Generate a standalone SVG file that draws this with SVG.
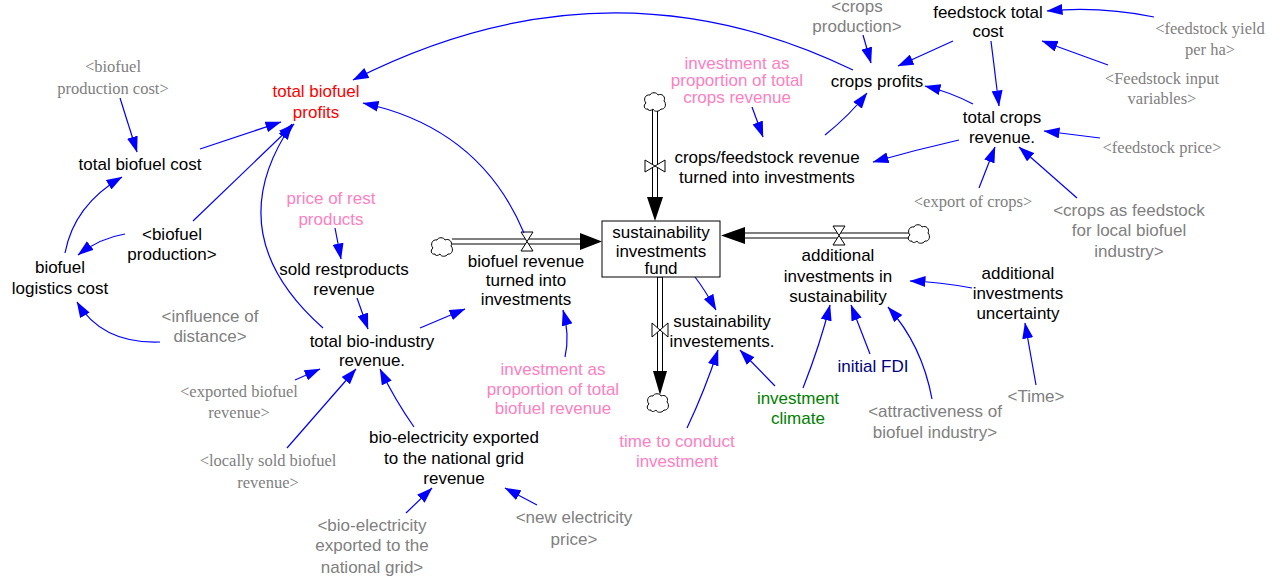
<svg xmlns="http://www.w3.org/2000/svg" xmlns:xlink="http://www.w3.org/1999/xlink" width="1279" height="578" viewBox="0 0 1279 578">
  <style>
    text { font-family: "Liberation Sans", Arial, sans-serif; font-size: 17px; text-anchor: middle; fill: #000; }
    .sh { fill: #808080; }
    .shs { fill: #808080; font-family: "Liberation Serif", "Times New Roman", serif; font-size: 16.5px; }
    .pk { fill: #FF80C0; }
    .rd { fill: #FF0000; }
    .gr { fill: #008000; }
    .nv { fill: #000080; }
    .lnk { fill: none; stroke: #0000FF; stroke-width: 1.2; marker-end: url(#ah); }
    .pipeo { stroke: #000; stroke-width: 6; fill: none; }
    .pipei { stroke: #fff; stroke-width: 4; fill: none; }
    .valve { fill: #fff; stroke: #000; stroke-width: 1; }
    .cloud { fill: #fff; stroke: #000; stroke-width: 1; }
  </style>
  <defs>
    <marker id="ah" markerUnits="userSpaceOnUse" markerWidth="16" markerHeight="11" viewBox="0 0 16 11" refX="15.5" refY="5.5" orient="auto">
      <path d="M0,0 L16,5.5 L0,11 Z" fill="#0000FF"/>
    </marker>
    <path id="cl" class="cloud" d="M-7,7 C-11,8 -12,3 -9,1 C-12,-2 -10,-8 -5,-7 C-4,-10 2,-10 3,-7 C7,-9 11,-5 9,-1 C12,2 10,8 6,7 C4,10 -1,10 -2,7 C-4,9 -7,9 -7,7 Z"/>
  </defs>

  <rect width="1279" height="578" fill="#fff"/>

  <!-- flows: pipes, valves, sources and sinks -->
  <g id="flows">
    <!-- biofuel revenue inflow from left -->
    <line class="pipeo" x1="452" y1="241.5" x2="581" y2="241.5"/>
    <line class="pipei" x1="451" y1="241.5" x2="582" y2="241.5"/>
    <polygon points="580,233 602,241.5 580,250" fill="#000"/>
    <use xlink:href="#cl" href="#cl" transform="translate(442,247)"/>
    <polygon class="valve" points="521,232 533,232 527,241.5 533,251 521,251 527,241.5"/>

    <!-- additional investments inflow from right -->
    <line class="pipeo" x1="744" y1="235.5" x2="909" y2="235.5"/>
    <line class="pipei" x1="743" y1="235.5" x2="910" y2="235.5"/>
    <polygon points="745,227 721,235.5 745,244" fill="#000"/>
    <use xlink:href="#cl" href="#cl" transform="translate(919,234)"/>
    <polygon class="valve" points="833,226 845,226 839,235.5 845,245 833,245 839,235.5"/>

    <!-- crops/feedstock inflow from top -->
    <line class="pipeo" x1="655" y1="110" x2="655" y2="198"/>
    <line class="pipei" x1="655" y1="109" x2="655" y2="199"/>
    <polygon points="647,197 655,221 663,197" fill="#000"/>
    <use xlink:href="#cl" href="#cl" transform="translate(655,102)"/>
    <polygon class="valve" points="645,160 645,172 655,166 665,172 665,160 655,166"/>

    <!-- sustainability investements outflow downward -->
    <line class="pipeo" x1="660" y1="277" x2="660" y2="372"/>
    <line class="pipei" x1="660" y1="277.5" x2="660" y2="373"/>
    <polygon points="653,371 660,395 667,371" fill="#000"/>
    <use xlink:href="#cl" href="#cl" transform="translate(658,403)"/>
    <polygon class="valve" points="652,323 652,337 660,330 668,337 668,323 660,330"/>
  </g>

  <!-- information links -->
  <g id="connectors">
    <path class="lnk" d="M120,98 L137,152"/>
    <path class="lnk" d="M200,149 L281,122"/>
    <path class="lnk" d="M193,221 L294,124"/>
    <path class="lnk" d="M125,234 Q100,238 78,255"/>
    <path class="lnk" d="M65,253 Q74,205 122,177"/>
    <path class="lnk" d="M160,342 Q102,344 77,302"/>
    <path class="lnk" d="M323,328 Q217,234 292,124"/>
    <path class="lnk" d="M524,233 Q480,128 363,103"/>
    <path class="lnk" d="M357,298 L368,329"/>
    <path class="lnk" d="M335,228 L341,259"/>
    <path class="lnk" d="M420,328 L465,309"/>
    <path class="lnk" d="M565,357 Q570,335 563,310"/>
    <path class="lnk" d="M295,380 L320,369"/>
    <path class="lnk" d="M287,448 L356,369"/>
    <path class="lnk" d="M414,427 Q395,400 380,369"/>
    <path class="lnk" d="M406,513 L432,488"/>
    <path class="lnk" d="M537,505 L505,488"/>
    <path class="lnk" d="M853,70 Q607,-49 353,80"/>
    <path class="lnk" d="M863,35 L871,63"/>
    <path class="lnk" d="M953,41 L898,66"/>
    <path class="lnk" d="M991,41 L999,106"/>
    <path class="lnk" d="M1154,17 Q1100,6 1047,11"/>
    <path class="lnk" d="M1108,65 L1042,41"/>
    <path class="lnk" d="M973,104 Q950,92 925,86"/>
    <path class="lnk" d="M825,135 Q850,115 867,93"/>
    <path class="lnk" d="M959,140 Q915,150 873,162"/>
    <path class="lnk" d="M1100,138 L1044,131"/>
    <path class="lnk" d="M979,188 L995,147"/>
    <path class="lnk" d="M1077,198 L1019,147"/>
    <path class="lnk" d="M752,107 L763,137"/>
    <path class="lnk" d="M695,277 Q705,290 716,310"/>
    <path class="lnk" d="M775,386 L740,350"/>
    <path class="lnk" d="M687,428 Q705,390 718,350"/>
    <path class="lnk" d="M803,388 Q820,345 830,305"/>
    <path class="lnk" d="M870,354 L851,305"/>
    <path class="lnk" d="M932,399 Q922,345 888,307"/>
    <path class="lnk" d="M972,288 Q940,282 910,281"/>
    <path class="lnk" d="M1036,385 L1025,323"/>
  </g>

  <!-- stock -->
  <g id="sustainability-investments-fund">
    <rect x="602" y="221" width="118" height="56" fill="#fff" stroke="#000" stroke-width="1"/>
    <text x="661" y="238">sustainability</text>
    <text x="661" y="257">investments</text>
    <text x="661" y="274">fund</text>
  </g>

  <!-- variables -->
  <g id="biofuel-production-cost-shadow"><text class="shs" x="113" y="72">&lt;biofuel</text><text class="shs" x="113" y="94">production cost&gt;</text></g>
  <g id="total-biofuel-profits"><text class="rd" x="316" y="97">total biofuel</text><text class="rd" x="316" y="118">profits</text></g>
  <g id="total-biofuel-cost"><text x="140" y="170">total biofuel cost</text></g>
  <g id="biofuel-production"><text x="172" y="240">&lt;biofuel</text><text x="172" y="260">production&gt;</text></g>
  <g id="biofuel-logistics-cost"><text x="60" y="273">biofuel</text><text x="60" y="294">logistics cost</text></g>
  <g id="influence-of-distance"><text class="sh" x="210" y="322">&lt;influence of</text><text class="sh" x="210" y="342">distance&gt;</text></g>
  <g id="price-of-rest-products"><text class="pk" x="331" y="204">price of rest</text><text class="pk" x="331" y="225">products</text></g>
  <g id="sold-restproducts-revenue"><text x="344" y="275">sold restproducts</text><text x="344" y="295">revenue</text></g>
  <g id="total-bio-industry-revenue"><text x="372" y="347">total bio-industry</text><text x="372" y="366">revenue.</text></g>
  <g id="biofuel-revenue-turned-into-investments"><text x="526" y="267">biofuel revenue</text><text x="526" y="286">turned into</text><text x="526" y="305">investments</text></g>
  <g id="crops-feedstock-revenue-turned-into-investments"><text x="767" y="163">crops/feedstock revenue</text><text x="767" y="183">turned into investments</text></g>
  <g id="investment-proportion-crops"><text class="pk" x="737" y="69">investment as</text><text class="pk" x="737" y="86">proportion of total</text><text class="pk" x="737" y="103">crops revenue</text></g>
  <g id="crops-profits"><text x="877" y="87">crops profits</text></g>
  <g id="crops-production"><text class="sh" x="857" y="12">&lt;crops</text><text class="sh" x="857" y="32">production&gt;</text></g>
  <g id="feedstock-total-cost"><text x="988" y="18">feedstock total</text><text x="988" y="37">cost</text></g>
  <g id="feedstock-yield-per-ha"><text class="shs" x="1210" y="34">&lt;feedstock yield</text><text class="shs" x="1210" y="55">per ha&gt;</text></g>
  <g id="feedstock-input-variables"><text class="shs" x="1162" y="84">&lt;Feedstock input</text><text class="shs" x="1162" y="104">variables&gt;</text></g>
  <g id="total-crops-revenue"><text x="1002" y="123">total crops</text><text x="1002" y="143">revenue.</text></g>
  <g id="feedstock-price"><text class="shs" x="1162" y="153">&lt;feedstock price&gt;</text></g>
  <g id="export-of-crops"><text class="shs" x="973" y="207">&lt;export of crops&gt;</text></g>
  <g id="crops-as-feedstock"><text class="sh" x="1129" y="216">&lt;crops as feedstock</text><text class="sh" x="1129" y="236">for local biofuel</text><text class="sh" x="1129" y="257">industry&gt;</text></g>
  <g id="additional-investments-in-sustainability"><text x="838" y="261">additional</text><text x="838" y="282">investments in</text><text x="838" y="302">sustainability</text></g>
  <g id="additional-investments-uncertainty"><text x="1018" y="279">additional</text><text x="1018" y="299">investments</text><text x="1018" y="319">uncertainty</text></g>
  <g id="sustainability-investements"><text x="722" y="327">sustainability</text><text x="722" y="347">investements.</text></g>
  <g id="investment-proportion-biofuel"><text class="pk" x="553" y="375">investment as</text><text class="pk" x="553" y="395">proportion of total</text><text class="pk" x="553" y="414">biofuel revenue</text></g>
  <g id="time-to-conduct-investment"><text class="pk" x="677" y="447">time to conduct</text><text class="pk" x="677" y="467">investment</text></g>
  <g id="investment-climate"><text class="gr" x="798" y="404">investment</text><text class="gr" x="798" y="424">climate</text></g>
  <g id="initial-fdi"><text class="nv" x="873" y="372">initial FDI</text></g>
  <g id="attractiveness-of-biofuel-industry"><text class="sh" x="935" y="417">&lt;attractiveness of</text><text class="sh" x="935" y="438">biofuel industry&gt;</text></g>
  <g id="time"><text class="sh" x="1036" y="402">&lt;Time&gt;</text></g>
  <g id="exported-biofuel-revenue"><text class="shs" x="239" y="397">&lt;exported biofuel</text><text class="shs" x="239" y="418">revenue&gt;</text></g>
  <g id="locally-sold-biofuel-revenue"><text class="shs" x="268" y="466">&lt;locally sold biofuel</text><text class="shs" x="268" y="488">revenue&gt;</text></g>
  <g id="bio-electricity-revenue"><text x="454" y="443">bio-electricity exported</text><text x="454" y="464">to the national grid</text><text x="454" y="484">revenue</text></g>
  <g id="bio-electricity-exported"><text class="sh" x="372" y="531">&lt;bio-electricity</text><text class="sh" x="372" y="551">exported to the</text><text class="sh" x="372" y="573">national grid&gt;</text></g>
  <g id="new-electricity-price"><text class="sh" x="574" y="523">&lt;new electricity</text><text class="sh" x="574" y="545">price&gt;</text></g>
</svg>
